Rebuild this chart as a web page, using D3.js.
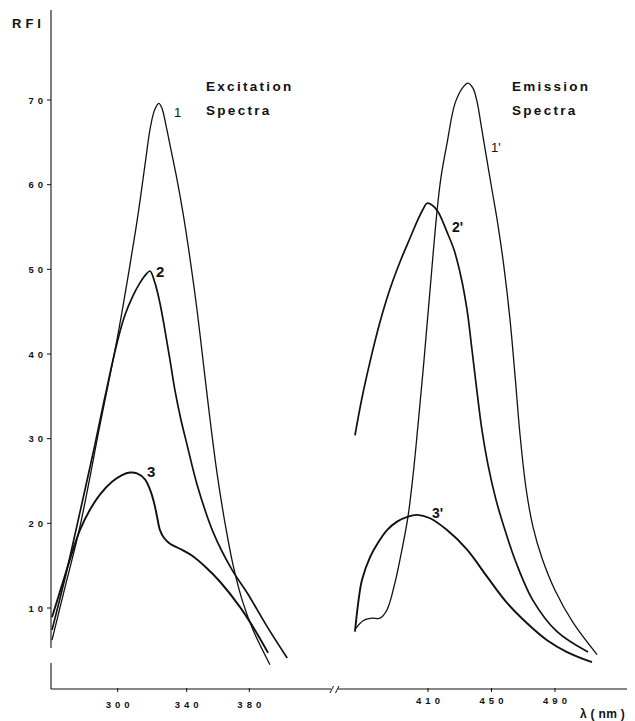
<!DOCTYPE html>
<html><head><meta charset="utf-8">
<script src="https://cdn.jsdelivr.net/npm/d3@7"></script>
<style>html,body{margin:0;padding:0;background:#fff;} svg{display:block}</style>
</head><body>
<svg id="c" width="635" height="721"></svg>
<script>
// ---- data (nm, RFI) ----
const yTicks = [10, 20, 30, 40, 50, 60, 70];
const exTicks = [300, 340, 380];
const emTicks = [410, 450, 490];

const excitation1 = [[261.9,6.2],[269.4,12.4],[278.1,19.6],[289.7,31.6],[299.6,41.7],[307.1,50.5],[311.8,56.5],[315.8,62.3],[318.7,66.5],[321.0,68.6],[322.8,69.4],[323.9,69.6],[325.7,69.0],[328.0,67.0],[330.9,64.1],[334.4,60.6],[337.9,56.6],[342.1,51.3],[346.6,45.2],[350.4,39.3],[354.3,33.2],[359.4,25.9],[364.5,20.0],[369.6,15.1],[376.0,10.6],[382.4,7.4],[393.2,3.3]];
const excitation2 = [[261.9,7.4],[269.4,13.5],[278.1,21.3],[286.8,29.3],[293.2,35.5],[299.6,41.3],[304.2,44.6],[308.9,46.9],[312.9,48.4],[316.4,49.4],[318.7,49.8],[321.6,48.4],[324.5,46.0],[327.4,42.8],[330.3,39.3],[333.2,35.7],[336.7,32.2],[340.2,29.3],[346.6,24.6],[356.8,19.0],[369.0,14.5],[378.6,11.8],[391.4,7.8],[404.2,4.1]];
const excitation3 = [[261.9,8.9],[267.7,12.7],[273.5,16.5],[278.1,19.2],[283.9,21.6],[289.7,23.4],[296.7,24.9],[302.5,25.7],[307.1,26.0],[311.2,25.9],[315.8,25.2],[318.7,24.0],[321.0,22.5],[322.8,20.8],[324.5,19.2],[326.8,18.3],[330.3,17.6],[336.1,17.0],[343.3,16.2],[351.7,14.9],[361.3,13.1],[374.1,10.1],[384.9,7.0],[392.0,4.7]];

const emission1 = [[364.6,7.6],[369.1,8.5],[374.7,8.8],[379.8,8.8],[384.2,9.8],[389.2,13.0],[393.6,16.9],[397.4,20.8],[400.6,25.7],[403.7,31.6],[407.5,39.3],[411.3,47.6],[415.7,56.9],[418.2,60.9],[422.0,64.9],[427.0,69.6],[432.0,71.5],[435.2,72.0],[438.3,71.4],[440.9,69.8],[443.4,67.1],[446.5,63.6],[450.3,59.4],[454.1,55.2],[457.9,50.2],[461.7,44.0],[464.8,37.5],[468.0,30.4],[471.7,24.2],[476.1,19.6],[481.8,15.9],[490.0,12.1],[501.3,8.3],[516.5,4.5]];
const emission2 = [[364.0,30.4],[368.4,34.8],[373.5,39.1],[379.8,43.8],[386.1,47.7],[392.4,50.9],[398.7,53.7],[403.7,55.9],[406.9,57.1],[409.4,57.8],[412.5,57.6],[416.3,56.8],[422.0,54.4],[426.4,52.3],[430.8,49.1],[434.6,45.2],[437.7,40.5],[440.9,35.5],[444.0,31.0],[447.8,26.9],[452.8,22.8],[458.5,19.2],[464.8,15.7],[476.1,10.9],[491.3,7.2],[510.8,4.8]];
const emission3 = [[364.0,7.2],[365.9,10.4],[368.4,13.3],[373.5,16.0],[378.5,17.7],[384.2,19.2],[390.5,20.2],[397.4,20.8],[403.1,21.0],[411.3,20.6],[422.0,19.2],[434.6,16.9],[447.2,13.7],[459.8,10.6],[472.4,8.2],[485.0,6.2],[497.6,4.8],[513.3,3.6]];

const curveLabels = [
  {t:"1",  side:"ex", x:332.6, v:68.0, size:13, weight:"normal"},
  {t:"2",  side:"ex", x:322.2, v:49.1, size:15, weight:"bold"},
  {t:"3",  side:"ex", x:317.0, v:25.5, size:15, weight:"bold"},
  {t:"1'", side:"em", x:449.7, v:63.9, size:13, weight:"normal"},
  {t:"2'", side:"em", x:425.1, v:54.4, size:14, weight:"bold"},
  {t:"3'", side:"em", x:412.5, v:20.6, size:14, weight:"bold"}
];

// ---- scales ----
const y = d3.scaleLinear().domain([10, 70]).range([608, 100]);
const xEx = d3.scaleLinear().domain([300, 340, 380]).range([117.7, 186.7, 249.3]);
const xEm = d3.scaleLinear().domain([410, 490]).range([428, 555]);

const svg = d3.select("#c");
const font = "'Liberation Sans', Arial, sans-serif";
const ink = "#111";
const axisY = 689, axisX = 51;

// y axis
svg.append("line").attr("x1",axisX).attr("x2",axisX).attr("y1",10).attr("y2",648).attr("stroke",ink).attr("stroke-width",1.1);
svg.append("line").attr("x1",axisX).attr("x2",axisX).attr("y1",663).attr("y2",axisY).attr("stroke",ink).attr("stroke-width",1.1);
const yt = svg.append("g");
yTicks.forEach(t => {
  yt.append("line").attr("x1",axisX-4).attr("x2",axisX).attr("y1",y(t)).attr("y2",y(t)).attr("stroke",ink).attr("stroke-width",1);
  yt.append("text").attr("x",axisX-4).attr("y",y(t)+3.6).attr("text-anchor","end")
    .attr("font-family",font).attr("font-weight","bold").attr("font-size",9.5).attr("letter-spacing",4)
    .attr("fill",ink).text(t);
});
svg.append("text").attr("x",12).attr("y",28).attr("font-family",font).attr("font-weight","bold")
  .attr("font-size",13).attr("letter-spacing",4).attr("fill",ink).text("RFI");

// x axis with break
svg.append("line").attr("x1",axisX).attr("x2",331).attr("y1",axisY).attr("y2",axisY).attr("stroke",ink).attr("stroke-width",1.2);
svg.append("line").attr("x1",338).attr("x2",627).attr("y1",axisY).attr("y2",axisY).attr("stroke",ink).attr("stroke-width",1.2);
svg.append("line").attr("x1",330).attr("x2",333.5).attr("y1",693).attr("y2",686).attr("stroke",ink).attr("stroke-width",1);
svg.append("line").attr("x1",335.5).attr("x2",339).attr("y1",693).attr("y2",686).attr("stroke",ink).attr("stroke-width",1);

function xTicks(ticks, sc, ly){
  ticks.forEach(t => {
    svg.append("line").attr("x1",sc(t)).attr("x2",sc(t)).attr("y1",axisY-1).attr("y2",axisY+3).attr("stroke",ink).attr("stroke-width",1);
    svg.append("text").attr("x",sc(t)+2).attr("y",ly).attr("text-anchor","middle")
      .attr("font-family",font).attr("font-weight","bold").attr("font-size",9.5).attr("letter-spacing",4)
      .attr("fill",ink).text(t);
  });
}
xTicks(exTicks, xEx, 708);
xTicks(emTicks, xEm, 704);
svg.append("text").attr("x",580).attr("y",718).attr("font-family",font).attr("font-weight","bold")
  .attr("font-size",12).attr("letter-spacing",0.3).attr("fill",ink).text("λ ( nm )");

// titles
function title(lines, x, y0){
  lines.forEach((s,i) => svg.append("text").attr("x",x).attr("y",y0+i*24).attr("font-family",font)
    .attr("font-weight","bold").attr("font-size",13.5).attr("letter-spacing",2.3).attr("fill",ink).text(s));
}
title(["Excitation","Spectra"], 206, 91);
title(["Emission","Spectra"], 512, 91);

// curves
const lineEx = d3.line().x(d => xEx(d[0])).y(d => y(d[1])).curve(d3.curveCatmullRom.alpha(0.5));
const lineEm = d3.line().x(d => xEm(d[0])).y(d => y(d[1])).curve(d3.curveCatmullRom.alpha(0.5));
[[excitation1,1.3],[excitation2,1.7],[excitation3,1.9]].forEach(([d,w]) =>
  svg.append("path").attr("d",lineEx(d)).attr("fill","none").attr("stroke",ink).attr("stroke-width",w));
[[emission1,1.3],[emission2,1.7],[emission3,1.9]].forEach(([d,w]) =>
  svg.append("path").attr("d",lineEm(d)).attr("fill","none").attr("stroke",ink).attr("stroke-width",w));

curveLabels.forEach(l => {
  const sc = l.side === "ex" ? xEx : xEm;
  svg.append("text").attr("x",sc(l.x)).attr("y",y(l.v)).attr("font-family",font)
    .attr("font-weight",l.weight).attr("font-size",l.size).attr("fill",ink).text(l.t);
});
</script>
</body></html>
